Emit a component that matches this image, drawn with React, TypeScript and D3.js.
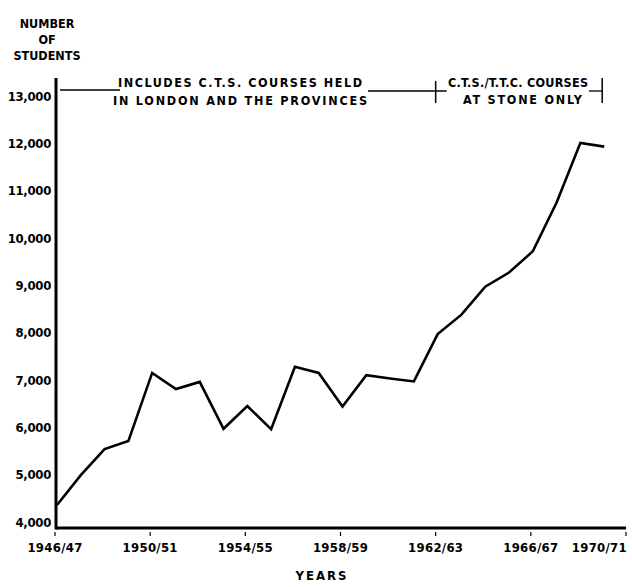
import React from 'react';
import * as d3 from 'd3';

const years = [
  '1946/47', '1947/48', '1948/49', '1949/50', '1950/51', '1951/52', '1952/53',
  '1953/54', '1954/55', '1955/56', '1956/57', '1957/58', '1958/59', '1959/60',
  '1960/61', '1961/62', '1962/63', '1963/64', '1964/65', '1965/66', '1966/67',
  '1967/68', '1968/69', '1969/70', '1970/71',
];
const students = [
  4360, 4990, 5540, 5710, 7150, 6810, 6960, 5970, 6450, 5960, 7280, 7150,
  6440, 7100, 7030, 6970, 7970, 8380, 8970, 9270, 9720, 10750, 12010, 11930,
];
const yTicks = [4000, 5000, 6000, 7000, 8000, 9000, 10000, 11000, 12000, 13000];
const xTickLabels = ['1946/47', '1950/51', '1954/55', '1958/59', '1962/63', '1966/67', '1970/71'];
const yTitle = ['NUMBER', 'OF', 'STUDENTS'];
const xTitle = 'YEARS';
const periodA = ['INCLUDES C.T.S. COURSES HELD', 'IN LONDON AND THE PROVINCES'];
const periodB = ['C.T.S./T.T.C. COURSES', 'AT STONE ONLY'];
const periodBreak = '1962/63';
const periodEnd = '1969/70';

const W = 632;
const H = 587;
const FONT = '"DejaVu Sans Condensed", "DejaVu Sans", sans-serif';

const App: React.FC = () => {
  const x = d3.scalePoint<string>().domain(years).range([55, 626]);
  const y = d3.scaleLinear().domain([4000, 13000]).range([522, 96]);

  const baseY = y(4000) + 6;
  const axisX = x(years[0])! + 1;
  const fmt = d3.format(',');

  const line = d3.line<number>()
    .x((_, i) => x(years[i])! + 2)
    .y(d => y(d));

  const headY = y(13000) - 6;
  const breakX = x(periodBreak)!;
  const endX = x(periodEnd)!;

  return (
    <svg width={W} height={H} style={{ position: 'absolute', left: 0, top: 0, background: '#fff' }}
      fontFamily={FONT} fontWeight="bold">
      {/* y title */}
      {yTitle.map((t, i) => (
        <text key={t} x={47} y={28 + i * 16} textAnchor="middle" fontSize={12.5}>{t}</text>
      ))}

      {/* axes */}
      <line x1={axisX} x2={axisX} y1={78} y2={baseY + 1.5} stroke="#000" strokeWidth={3} />
      <line x1={axisX} x2={x(years[years.length - 1])!} y1={baseY} y2={baseY} stroke="#000" strokeWidth={3} />

      {yTicks.map(v => (
        <text key={v} x={51} y={y(v)} dy="0.36em" textAnchor="end" fontSize={13} letterSpacing={-0.3}>
          {fmt(v)}
        </text>
      ))}

      {xTickLabels.map((t, i) => {
        const last = i === xTickLabels.length - 1;
        return (
          <g key={t}>
            <line x1={x(t)!} x2={x(t)!} y1={baseY + 4} y2={baseY + 8} stroke="#000" strokeWidth={1.2} />
            <text x={last ? x(t)! + 1 : x(t)!} y={baseY + 24} textAnchor={last ? 'end' : 'middle'}
              fontSize={13} letterSpacing={0.3}>{t}</text>
          </g>
        );
      })}

      <text x={322} y={baseY + 52} textAnchor="middle" fontSize={13} letterSpacing={2}>{xTitle}</text>

      {/* period annotations */}
      <line x1={axisX + 4} x2={120} y1={headY} y2={headY} stroke="#000" strokeWidth={1.3} />
      <text x={118} y={headY - 3} fontSize={12.5} textLength={244} lengthAdjust="spacing">{periodA[0]}</text>
      <text x={113} y={headY + 15} fontSize={12.5} textLength={254} lengthAdjust="spacing">{periodA[1]}</text>
      <line x1={368} x2={breakX + 11} y1={headY + 1} y2={headY + 1} stroke="#000" strokeWidth={1.3} />
      <line x1={breakX} x2={breakX} y1={headY - 9} y2={headY + 13} stroke="#000" strokeWidth={1.5} />
      <text x={448} y={headY - 3} fontSize={12.5} textLength={140} lengthAdjust="spacing">{periodB[0]}</text>
      <text x={463} y={headY + 14} fontSize={12.5} textLength={119} lengthAdjust="spacing">{periodB[1]}</text>
      <line x1={589} x2={endX} y1={headY + 1} y2={headY + 1} stroke="#000" strokeWidth={1.3} />
      <line x1={endX} x2={endX} y1={headY - 12} y2={headY + 13} stroke="#000" strokeWidth={1.5} />

      {/* data line */}
      <path d={line(students) ?? ''} fill="none" stroke="#000" strokeWidth={2.6} strokeLinejoin="miter" />
    </svg>
  );
};

export default App;
